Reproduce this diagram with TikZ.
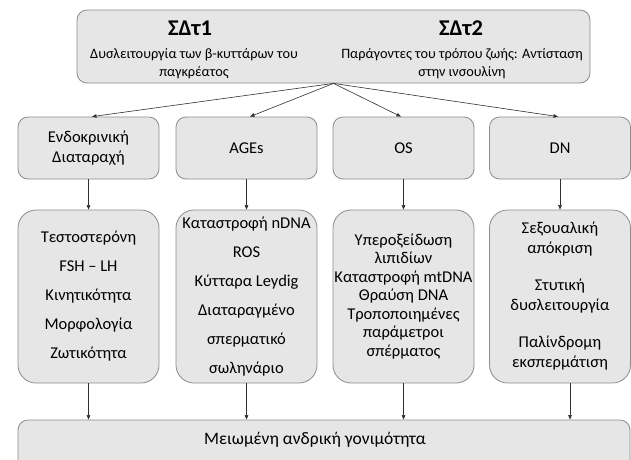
\documentclass[tikz,border=0pt]{standalone}
\usepackage{fontspec}
\setmainfont{Carlito}
\usetikzlibrary{arrows.meta}
\definecolor{boxfill}{HTML}{E6E6E6}
\definecolor{boxdraw}{HTML}{8C8C8C}
\definecolor{arrowc}{HTML}{303030}
\begin{document}
\begin{tikzpicture}[x=1pt,y=-1pt,
  box/.style={draw=boxdraw, fill=boxfill, rounded corners=10pt, line width=0.8pt, inner sep=0pt, align=center},
  midbox/.style={box, minimum width=141pt, minimum height=62pt},
  tallbox/.style={box, rounded corners=18pt, minimum width=141pt, minimum height=173pt},
  conn/.style={-{Triangle[length=4.5pt,width=3.5pt]}, line width=0.6pt, draw=arrowc},
  body/.style={font=\fontsize{16.5}{18.5}\selectfont},
  sub/.style={font=\fontsize{14.3}{18}\selectfont, align=center},
  ttl/.style={font=\fontsize{22.5}{24}\selectfont\bfseries}]
\clip (0,0) rectangle (631,459);
\fill[white] (0,0) rectangle (631,459);
% top box
\node[box, minimum width=513pt, minimum height=73pt] (top) at (333.5,46.5) {};
\node[ttl] (t1) at (190,28) {ΣΔτ1};
\node[ttl] (t2) at (461,28) {ΣΔτ2};
\node[sub] (s1) at (194,64) {Δυσλειτουργία των β-κυττάρων του\\παγκρέατος};
\node[sub] (s2) at (462,64) {Παράγοντες του τρόπου ζωής: Αντίσταση\\στην ινσουλίνη};
% row 2
\node[midbox, body, font=\fontsize{16.5}{20}\selectfont] (r2a) at (88.5,148) {Ενδοκρινική\\Διαταραχή};
\node[midbox, body] (r2b) at (246.5,148) {AGEs};
\node[midbox, body] (r2c) at (403.5,148) {OS};
\node[midbox, body] (r2d) at (560,148) {DN};
% row 3
\node[tallbox, body] (r3a) at (88.5,296.5) {Τεστοστερόνη\\[10.5pt]FSH – LH\\[10.5pt]Κινητικότητα\\[10.5pt]Μορφολογία\\[10.5pt]Ζωτικότητα};
\node[tallbox, body] (r3b) at (246.5,296.5) {Καταστροφή nDNA\\[10.5pt]ROS\\[10.5pt]Κύτταρα Leydig\\[10.5pt]Διαταραγμένο\\[10.5pt]σπερματικό\\[10.5pt]σωληνάριο};
\node[tallbox, body] (r3c) at (403.5,296.5) {Υπεροξείδωση\\λιπιδίων\\Καταστροφή mtDNA\\Θραύση DNA\\Τροποποιημένες\\παράμετροι\\σπέρματος};
\node[tallbox, body, font=\fontsize{16.5}{20}\selectfont] (r3d) at (560,296.5) {Σεξουαλική\\απόκριση\\[17pt]Στυτική\\δυσλειτουργία\\[17pt]Παλίνδρομη\\εκσπερμάτιση};
% bottom box
\node[box, minimum width=612pt, minimum height=60pt] (bot) at (324,450) {};
\node[font=\fontsize{17.5}{20}\selectfont] (bt) at (315,440) {Μειωμένη ανδρική γονιμότητα};
% connectors
\draw[conn] (top.south) -- ([xshift=3.5pt]r2a.north);
\draw[conn] (top.south) -- ([xshift=3.5pt]r2b.north);
\draw[conn] (top.south) -- ([xshift=-2.5pt]r2c.north);
\draw[conn] (top.south) -- ([xshift=-2pt]r2d.north);
\foreach \a/\b in {r2a/r3a, r2b/r3b, r2c/r3c, r2d/r3d}
  \draw[conn] (\a.south) -- (\b.north);
\draw[conn] (r3a.south) -- (r3a.south |- bot.north);
\draw[conn] (r3b.south) -- (r3b.south |- bot.north);
\draw[conn] (r3c.south) -- (r3c.south |- bot.north);
\draw[conn] ([xshift=10pt]r3d.south) -- ([xshift=10pt]r3d.south |- bot.north);
\end{tikzpicture}
\end{document}
